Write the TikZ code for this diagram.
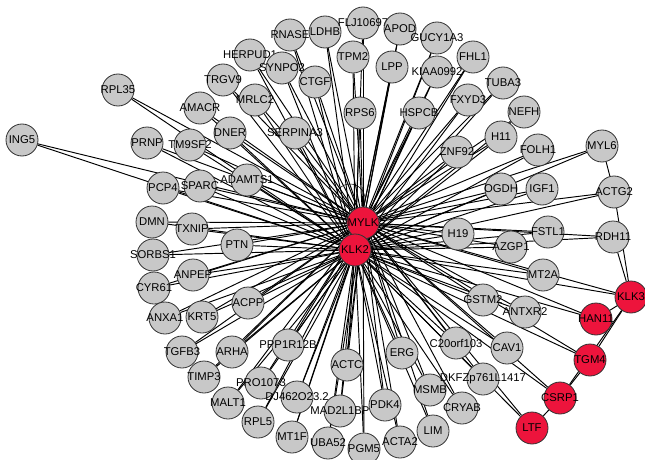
\documentclass[tikz,border=0pt]{standalone}
\usepackage{fontspec}
\usetikzlibrary{backgrounds}
\newfontfamily\genefont{Liberation Sans}
\definecolor{hubred}{RGB}{237,20,60}
\definecolor{genegray}{RGB}{200,200,200}
\begin{document}
\begin{tikzpicture}[x=1pt, y=-1pt,
    gene/.style={circle, draw=black!80, line width=0.8pt, fill=genegray, minimum size=32pt, inner sep=0pt,
        font=\genefont\fontsize{11.3}{11}\selectfont,
        execute at begin node={\hbox to 0pt\bgroup\hss}, execute at end node={\hss\egroup}},
    hub/.style={gene, fill=hubred},
    link/.style={draw=black, line width=0.95pt}]
    \useasboundingbox (0,0) rectangle (645,460);

    % hubs
    \node [hub] (MYLK) at (363,223) {MYLK};
    \node [hub] (KLK2) at (355,250) {KLK2};

    % upper left
    \node [gene] (ING5) at (22,140) {ING5};
    \node [gene] (RPL35) at (118,90) {RPL35};
    \node [gene] (RNASE) at (290,35) {RNASE};
    \node [gene] (HERPUD1) at (250,55) {HERPUD1};
    \node [gene] (SYNPO2) at (282,68) {SYNPO2};
    \node [gene] (TRGV9) at (223,80) {TRGV9};
    \node [gene] (CTGF) at (315,82) {CTGF};
    \node [gene] (MRLC2) at (255,100) {MRLC2};
    \node [gene] (AMACR) at (200,108) {AMACR};
    \node [gene] (DNER) at (230,133) {DNER};
    \node [gene] (SERPINA3) at (295,133) {SERPINA3};
    \node [gene] (PRNP) at (147,143) {PRNP};
    \node [gene] (TM9SF2) at (190,145) {TM9SF2};
    \node [gene] (ADAMTS1) at (247,180) {ADAMTS1};
    \node [gene] (PCP4) at (163,188) {PCP4};
    \node [gene] (SPARC) at (200,186) {SPARC};

    % upper right
    \node [gene] (LDHB) at (325,32) {LDHB};
    \node [gene] (FLJ10697) at (363,23) {FLJ10697};
    \node [gene] (APOD) at (400,29) {APOD};
    \node [gene] (GUCY1A3) at (437,38) {GUCY1A3};
    \node [gene] (TPM2) at (353,57) {TPM2};
    \node [gene] (LPP) at (392,67) {LPP};
    \node [gene] (FHL1) at (473,57) {FHL1};
    \node [gene] (KIAA0992) at (437,72) {KIAA0992};
    \node [gene] (TUBA3) at (503,83) {TUBA3};
    \node [gene] (FXYD3) at (468,100) {FXYD3};
    \node [gene] (RPS6) at (360,113) {RPS6};
    \node [gene] (HSPCB) at (419,113) {HSPCB};
    \node [gene] (NEFH) at (524,112) {NEFH};
    \node [gene] (H11) at (501,137) {H11};
    \node [gene] (ZNF92) at (457,152) {ZNF92};
    \node [gene] (FOLH1) at (538,150) {FOLH1};
    \node [gene] (MYL6) at (602,146) {MYL6};
    \node [gene] (OGDH) at (501,189) {OGDH};
    \node [gene] (IGF1) at (542,189) {IGF1};
    \node [gene] (ACTG2) at (614,192) {ACTG2};

    % left
    \node [gene] (DMN) at (152,222) {DMN};
    \node [gene] (TXNIP) at (192,229) {TXNIP};
    \node [gene] (PTN) at (237,245) {PTN};
    \node [gene] (SORBS1) at (153,255) {SORBS1};
    \node [gene] (ANPEP) at (193,275) {ANPEP};
    \node [gene] (CYR61) at (154,288) {CYR61};
    \node [gene] (ACPP) at (248,303) {ACPP};
    \node [gene] (ANXA1) at (165,318) {ANXA1};
    \node [gene] (KRT5) at (202,317) {KRT5};

    % right
    \node [gene] (H19) at (458,234) {H19};
    \node [gene] (FSTL1) at (548,232) {FSTL1};
    \node [gene] (RDH11) at (613,237) {RDH11};
    \node [gene] (AZGP1) at (511,247) {AZGP1};
    \node [gene] (MT2A) at (543,275) {MT2A};
    \node [gene] (GSTM2) at (483,300) {GSTM2};
    \node [gene] (ANTXR2) at (525,312) {ANTXR2};
    \node [hub] (KLK3) at (631,297) {KLK3};
    \node [hub] (HAN11) at (596,319) {HAN11};
    \node [hub] (TGM4) at (590,360) {TGM4};
    \node [hub] (CSRP1) at (560,398) {CSRP1};
    \node [hub] (LTF) at (532,428) {LTF};

    % lower half
    \node [gene] (TGFB3) at (182,352) {TGFB3};
    \node [gene] (ARHA) at (232,352) {ARHA};
    \node [gene] (PPP1R12B) at (288,345) {PPP1R12B};
    \node [gene] (TIMP3) at (204,377) {TIMP3};
    \node [gene] (PRO1073) at (261,383) {PRO1073};
    \node [gene] (MALT1) at (228,403) {MALT1};
    \node [gene] (DJ462) at (297,397) {DJ462O23.2};
    \node [gene] (RPL5) at (258,422) {RPL5};
    \node [gene] (MT1F) at (292,437) {MT1F};
    \node [gene] (ACTC) at (347,365) {ACTC};
    \node [gene] (MAD2L1BP) at (340,411) {MAD2L1BP};
    \node [gene] (UBA52) at (328,443) {UBA52};
    \node [gene] (PGM5) at (364,449) {PGM5};
    \node [gene] (PDK4) at (385,405) {PDK4};
    \node [gene] (ACTA2) at (400,442) {ACTA2};
    \node [gene] (ERG) at (402,353) {ERG};
    \node [gene] (MSMB) at (430,390) {MSMB};
    \node [gene] (LIM) at (433,431) {LIM};
    \node [gene] (C20orf103) at (456,343) {C20orf103};
    \node [gene] (CAV1) at (507,348) {CAV1};
    \node [gene] (DKFZ) at (483,379) {DKFZp761L1417};
    \node [gene] (CRYAB) at (462,408) {CRYAB};

    % connectors behind the nodes
    \begin{pgfonlayer}{background}
        \foreach \g in {ING5, RPL35, RNASE, HERPUD1, SYNPO2, TRGV9, CTGF, MRLC2, AMACR, DNER,
            SERPINA3, PRNP, TM9SF2, ADAMTS1, PCP4, SPARC, LDHB, FLJ10697, APOD, GUCY1A3, TPM2,
            LPP, FHL1, KIAA0992, TUBA3, FXYD3, RPS6, HSPCB, NEFH, H11, ZNF92, FOLH1, MYL6, OGDH,
            IGF1, ACTG2, DMN, TXNIP, PTN, SORBS1, ANPEP, CYR61, ACPP, ANXA1, KRT5, H19, FSTL1,
            RDH11, AZGP1, MT2A, GSTM2, ANTXR2, KLK3, HAN11, TGM4, CSRP1, LTF, TGFB3, ARHA,
            PPP1R12B, TIMP3, PRO1073, MALT1, DJ462, RPL5, MT1F, ACTC, MAD2L1BP, UBA52, PGM5,
            PDK4, ACTA2, ERG, MSMB, LIM, C20orf103, CAV1, DKFZ, CRYAB}
        {
            \draw [link] (MYLK) -- (\g);
            \draw [link] (KLK2) -- (\g);
        }
        \draw [link] (MYLK) -- (KLK2);
        \draw [link, line width=0.5pt] ([shift={(-13,-24)}]MYLK.center) circle [radius=15pt];
        \draw [link] (MYL6) -- (ACTG2);
        \draw [link] (ACTG2) -- (KLK3);
        \draw [link] (RDH11) -- (KLK3);
        \draw [link] (HAN11) -- (KLK3);
        \draw [link] (TGM4) -- (KLK3);
        \draw [link] (CSRP1) -- (KLK3);
        \draw [link] (TGM4) -- (CSRP1);
        \draw [link] (CSRP1) -- (LTF);
    \end{pgfonlayer}
\end{tikzpicture}
\end{document}
